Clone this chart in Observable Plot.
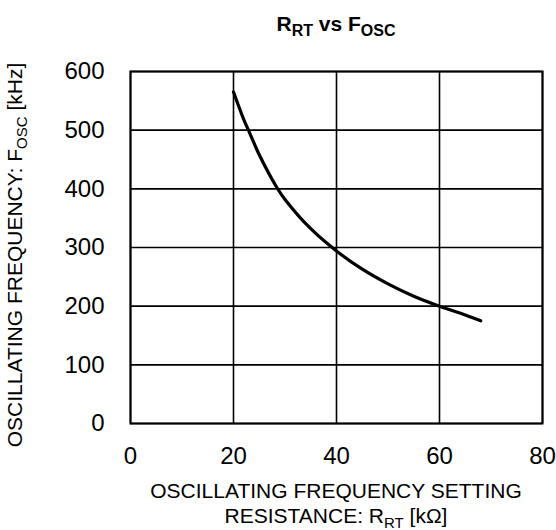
<!DOCTYPE html>
<html>
<head>
<meta charset="utf-8">
<script src="https://cdn.jsdelivr.net/npm/d3@7"></script>
<script src="https://cdn.jsdelivr.net/npm/@observablehq/plot@0.6"></script>
<style>
  html, body { margin: 0; padding: 0; background: #fff; }
  #chart svg { display: block; }
</style>
</head>
<body>
<div id="chart"></div>
<script>
// Data
const resistance = [20, 22, 23, 25, 28.5, 30, 35, 40, 45, 50, 55, 60, 65, 68]; // kΩ
const frequency  = [565, 518, 498, 458, 401, 382, 332, 294, 263, 238, 217, 200, 185, 175]; // kHz
const xTicks = [0, 20, 40, 60, 80];
const yTicks = [0, 100, 200, 300, 400, 500, 600];

const data = resistance.map((r, i) => ({r, f: frequency[i]}));

const font = "'Liberation Sans', Arial, sans-serif";

const plot = Plot.plot({
  width: 556,
  height: 530,
  marginLeft: 130,
  marginRight: 14,
  marginTop: 71,
  marginBottom: 107,
  style: {fontFamily: font, color: "#000", background: "#fff"},
  x: {domain: [0, 80], ticks: xTicks},
  y: {domain: [0, 600], ticks: yTicks},
  marks: [
    Plot.gridX(xTicks, {stroke: "#000", strokeOpacity: 1, strokeWidth: 1.6}),
    Plot.gridY(yTicks, {stroke: "#000", strokeOpacity: 1, strokeWidth: 1.6}),
    Plot.frame({stroke: "#000", strokeWidth: 2}),
    Plot.line(data, {x: "r", y: "f", stroke: "#000", strokeWidth: 3.2, curve: "catmull-rom"}),
    Plot.axisX(xTicks, {tickSize: 0, tickPadding: 23, fontSize: 24, label: null}),
    Plot.axisY(yTicks, {tickSize: 0, tickPadding: 26, fontSize: 24, label: null})
  ]
});

document.getElementById("chart").appendChild(plot);

const svg = d3.select(plot);

// Title
const t = svg.append("text")
  .attr("x", 336).attr("y", 31)
  .attr("text-anchor", "middle")
  .attr("font-family", font)
  .attr("font-weight", "bold")
  .attr("font-size", 21)
  .attr("fill", "#000");
t.append("tspan").text("R");
t.append("tspan").attr("font-size", 16).attr("dy", 5).text("RT");
t.append("tspan").attr("dy", -5).text(" vs F");
t.append("tspan").attr("font-size", 16).attr("dy", 5).text("OSC");

// X axis label (two lines)
svg.append("text")
  .attr("x", 336).attr("y", 498)
  .attr("text-anchor", "middle")
  .attr("font-family", font).attr("font-size", 21).attr("fill", "#000")
  .text("OSCILLATING FREQUENCY SETTING");
const xl2 = svg.append("text")
  .attr("x", 336).attr("y", 523)
  .attr("text-anchor", "middle")
  .attr("font-family", font).attr("font-size", 21).attr("fill", "#000");
xl2.append("tspan").text("RESISTANCE: R");
xl2.append("tspan").attr("font-size", 15).attr("dy", 5).text("RT");
xl2.append("tspan").attr("dy", -5).text(" [kΩ]");

// Y axis label (rotated)
const yl = svg.append("text")
  .attr("transform", "translate(22,255) rotate(-90)")
  .attr("text-anchor", "middle")
  .attr("font-family", font).attr("font-size", 21).attr("fill", "#000");
yl.append("tspan").text("OSCILLATING FREQUENCY: F");
yl.append("tspan").attr("font-size", 15).attr("dy", 5).text("OSC");
yl.append("tspan").attr("dy", -5).text(" [kHz]");
</script>
</body>
</html>
